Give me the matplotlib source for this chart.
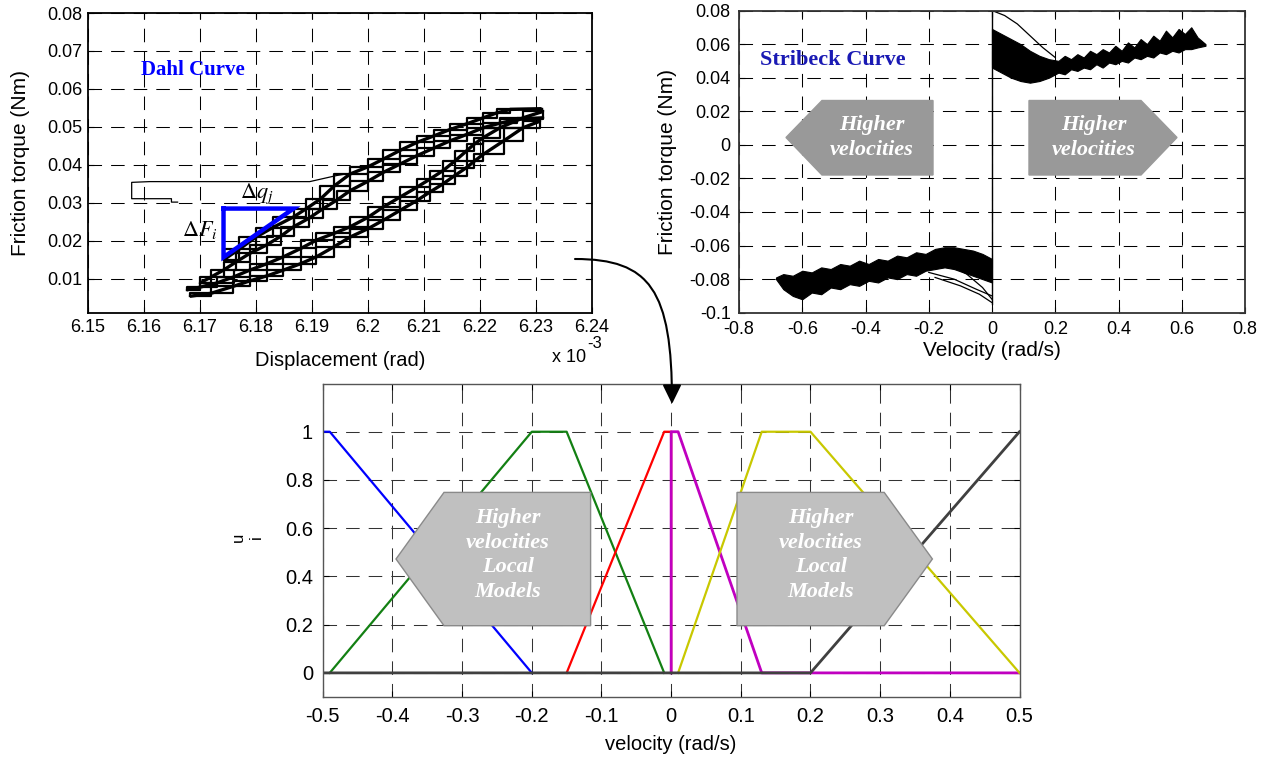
import matplotlib
matplotlib.use("Agg")
import matplotlib.pyplot as plt
from matplotlib.patches import Polygon, FancyArrowPatch
from matplotlib.path import Path

plt.rcParams['font.family'] = ['Liberation Sans', 'DejaVu Sans']
plt.rcParams['mathtext.fontset'] = 'stix'
plt.rcParams['axes.unicode_minus'] = False

W, H = 1266, 757

# ---------------- Dahl curve data (displacement in 1e-3 rad, torque Nm)
dahl_xticks = [6.15, 6.16, 6.17, 6.18, 6.19, 6.20, 6.21, 6.22, 6.23, 6.24]
dahl_xlabels = ['6.15', '6.16', '6.17', '6.18', '6.19', '6.2', '6.21', '6.22', '6.23', '6.24']
dahl_yticks = [0.01, 0.02, 0.03, 0.04, 0.05, 0.06, 0.07, 0.08]

start_x = [6.1660, 6.1649, 6.1649, 6.1578, 6.1578, 6.1610, 6.1896, 6.1944, 6.1968]
start_y = [0.0302, 0.0302, 0.0311, 0.0311, 0.0354, 0.0356, 0.0356, 0.0372, 0.0378]

band1_x = [6.1742, 6.1770, 6.1800, 6.1830, 6.1867, 6.1890, 6.1915, 6.1940, 6.1968, 6.2000,
           6.2027, 6.2057, 6.2087, 6.2117, 6.2146, 6.2176, 6.2206, 6.2230, 6.2254, 6.2310]
band1_y = [0.0150, 0.0178, 0.0210, 0.0235, 0.0263, 0.0285, 0.0310, 0.0345, 0.0376, 0.0395,
           0.0415, 0.0438, 0.0459, 0.0476, 0.0493, 0.0508, 0.0524, 0.0537, 0.0546, 0.0548]

band2_x = [6.1700, 6.1720, 6.1742, 6.1765, 6.1789, 6.1820, 6.1845, 6.1867, 6.1895, 6.1920,
           6.1945, 6.1968, 6.2000, 6.2027, 6.2057, 6.2087, 6.2117, 6.2146, 6.2176, 6.2206,
           6.2236, 6.2266, 6.2313]
band2_y = [0.0089, 0.0105, 0.0123, 0.0145, 0.0167, 0.0190, 0.0213, 0.0237, 0.0260, 0.0285,
           0.0308, 0.0332, 0.0357, 0.0380, 0.0402, 0.0424, 0.0444, 0.0463, 0.0480, 0.0498,
           0.0510, 0.0520, 0.0524]

band3_x = [6.1676, 6.1700, 6.1730, 6.1760, 6.1789, 6.1820, 6.1849, 6.1880, 6.1908, 6.1940,
           6.1968, 6.2000, 6.2027, 6.2057, 6.2087, 6.2110, 6.2134, 6.2155, 6.2176, 6.2190,
           6.2206, 6.2236, 6.2277, 6.2313]
band3_y = [0.0071, 0.0078, 0.0089, 0.0105, 0.0123, 0.0140, 0.0158, 0.0180, 0.0202, 0.0220,
           0.0237, 0.0262, 0.0289, 0.0315, 0.0341, 0.0362, 0.0385, 0.0410, 0.0437, 0.0455,
           0.0472, 0.0498, 0.0524, 0.0541]

band4_x = [6.1682, 6.1720, 6.1759, 6.1790, 6.1820, 6.1849, 6.1880, 6.1908, 6.1940, 6.1968,
           6.2000, 6.2027, 6.2057, 6.2087, 6.2110, 6.2134, 6.2155, 6.2176, 6.2190, 6.2206,
           6.2242, 6.2277, 6.2307]
band4_y = [0.0054, 0.0062, 0.0080, 0.0095, 0.0108, 0.0123, 0.0140, 0.0158, 0.0185, 0.0210,
           0.0232, 0.0254, 0.0280, 0.0306, 0.0328, 0.0350, 0.0372, 0.0393, 0.0410, 0.0428,
           0.0463, 0.0498, 0.0515]

tri_x = [6.1742, 6.1867, 6.1742, 6.1742]
tri_y = [0.0285, 0.0285, 0.0157, 0.0285]

# ---------------- Stribeck curve data (velocity rad/s, torque Nm)
str_xticks = [-0.8, -0.6, -0.4, -0.2, 0, 0.2, 0.4, 0.6, 0.8]
str_xlabels = ['-0.8', '-0.6', '-0.4', '-0.2', '0', '0.2', '0.4', '0.6', '0.8']
str_yticks = [-0.1, -0.08, -0.06, -0.04, -0.02, 0, 0.02, 0.04, 0.06, 0.08]
str_ylabels = ['-0.1', '-0.08', '-0.06', '-0.04', '-0.02', '0', '0.02', '0.04', '0.06', '0.08']

pos_v = [0.0, 0.03, 0.06, 0.09, 0.12, 0.15, 0.18, 0.21, 0.23, 0.25, 0.27, 0.29, 0.31, 0.33,
         0.35, 0.37, 0.39, 0.41, 0.43, 0.45, 0.47, 0.49, 0.51, 0.53, 0.55, 0.57, 0.59, 0.61,
         0.63, 0.65, 0.675]
pos_up = [0.069, 0.066, 0.063, 0.060, 0.056, 0.053, 0.051, 0.050, 0.053, 0.051, 0.054, 0.052,
          0.056, 0.054, 0.057, 0.055, 0.059, 0.056, 0.061, 0.058, 0.063, 0.060, 0.065, 0.062,
          0.068, 0.064, 0.069, 0.066, 0.070, 0.064, 0.060]
pos_lo = [0.046, 0.043, 0.040, 0.038, 0.037, 0.038, 0.040, 0.043, 0.042, 0.045, 0.044, 0.046,
          0.045, 0.048, 0.046, 0.049, 0.048, 0.050, 0.049, 0.052, 0.051, 0.053, 0.052, 0.055,
          0.054, 0.056, 0.055, 0.057, 0.057, 0.058, 0.059]
pos_thin_v = [0.0, 0.04, 0.08, 0.12, 0.16, 0.20]
pos_thin_t = [0.080, 0.077, 0.072, 0.065, 0.058, 0.052]

neg_v = [-0.683, -0.66, -0.63, -0.60, -0.57, -0.54, -0.51, -0.48, -0.45, -0.42, -0.39, -0.36,
         -0.33, -0.30, -0.27, -0.24, -0.21, -0.18, -0.15, -0.12, -0.09, -0.06, -0.03, 0.0]
neg_up = [-0.079, -0.077, -0.078, -0.075, -0.076, -0.073, -0.074, -0.071, -0.072, -0.069,
          -0.071, -0.068, -0.069, -0.066, -0.067, -0.064, -0.065, -0.062, -0.061, -0.061,
          -0.062, -0.063, -0.065, -0.068]
neg_lo = [-0.080, -0.086, -0.090, -0.092, -0.088, -0.089, -0.085, -0.086, -0.083, -0.084,
          -0.081, -0.082, -0.079, -0.080, -0.077, -0.078, -0.075, -0.074, -0.073, -0.074,
          -0.076, -0.078, -0.080, -0.082]
fan_v = [[-0.20, -0.12, -0.05, 0.0], [-0.18, -0.10, -0.04, 0.0], [-0.15, -0.08, -0.03, 0.0]]
fan_t = [[-0.076, -0.080, -0.086, -0.090], [-0.079, -0.084, -0.089, -0.094],
         [-0.070, -0.077, -0.085, -0.092]]

# ---------------- membership functions
mf_xticks = [-0.5, -0.4, -0.3, -0.2, -0.1, 0, 0.1, 0.2, 0.3, 0.4, 0.5]
mf_xlabels = ['-0.5', '-0.4', '-0.3', '-0.2', '-0.1', '0', '0.1', '0.2', '0.3', '0.4', '0.5']
mf_yticks = [0, 0.2, 0.4, 0.6, 0.8, 1]
mf_ylabels = ['0', '0.2', '0.4', '0.6', '0.8', '1']

mf_blue_x, mf_blue_y = [-0.5, -0.49, -0.2], [1, 1, 0]
mf_green_x, mf_green_y = [-0.49, -0.2, -0.15, -0.01], [0, 1, 1, 0]
mf_red_x, mf_red_y = [-0.15, -0.01, 0.0, 0.0], [0, 1, 1, 0]
mf_mag_x, mf_mag_y = [0.0, 0.0, 0.01, 0.13, 0.5], [0, 1, 1, 0, 0]
mf_yel_x, mf_yel_y = [0.01, 0.13, 0.2, 0.5], [0, 1, 1, 0]
mf_blk_x, mf_blk_y = [-0.5, 0.2, 0.5], [0, 0, 1]


def px(x, y):
    # figure pixel (from top-left) to figure fraction
    return (x / W, 1 - y / H)


def grid_style(ax, color='k'):
    ax.grid(True, color=color, linestyle=(0, (13, 8.7)), linewidth=0.75)
    ax.tick_params(direction='in', length=4, top=True, right=True)


fig = plt.figure(figsize=(W / 100, H / 100), dpi=100)

# ---- top-left: Dahl
ax1 = fig.add_axes([88 / W, 1 - 313 / H, 504 / W, 300 / H])
ax1.plot(start_x, start_y, color='k', lw=0.9)
for bx, by in [(band1_x, band1_y), (band2_x, band2_y), (band3_x, band3_y), (band4_x, band4_y)]:
    ax1.plot(bx, by, color='k', lw=2.4, solid_capstyle='butt')
    ax1.plot(bx, by, color='k', lw=1.6, drawstyle='steps-post')
    ax1.plot(bx, by, color='k', lw=1.6, drawstyle='steps-pre')
ax1.plot(tri_x, tri_y, color='#0000ff', lw=3.2, solid_joinstyle='miter')
ax1.set_xlim(6.15, 6.24)
ax1.set_ylim(0.001, 0.08)
ax1.set_xticks(dahl_xticks)
ax1.set_xticklabels(dahl_xlabels)
ax1.set_yticks(dahl_yticks)
ax1.tick_params(labelsize=13, pad=4)
grid_style(ax1)
for s in ax1.spines.values():
    s.set_linewidth(1.3)
ax1.set_ylabel('Friction torque (Nm)', fontsize=15)
ax1.yaxis.set_label_coords(-0.115, 0.5)
ax1.set_xlabel('Displacement (rad)', fontsize=14.5, va='center')
ax1.xaxis.set_label_coords(0.5, -0.159)
ax1.text(6.1595, 0.065, 'Dahl Curve', color='#0000ff', fontsize=15, fontweight='bold',
         family='Liberation Serif', va='center', ha='left')
ax1.text(6.1801, 0.0325, r'$\Delta q_j$', fontsize=16, ha='center', va='center')
ax1.text(6.1700, 0.0229, r'$\Delta F_i$', fontsize=16, ha='center', va='center')
fig.text(*px(586, 358), 'x 10', fontsize=13, ha='right', va='center')
fig.text(*px(587, 343), '-3', fontsize=12, ha='left', va='center')

# ---- top-right: Stribeck
ax2 = fig.add_axes([739 / W, 1 - 312.7 / H, 506 / W, 302.2 / H])
ax2.fill_between(pos_v, pos_lo, pos_up, color='k', lw=0.8)
ax2.plot(pos_thin_v, pos_thin_t, color='k', lw=0.9)
ax2.fill_between(neg_v, neg_lo, neg_up, color='k', lw=0.8)
for fv, ft in zip(fan_v, fan_t):
    ax2.plot(fv, ft, color='k', lw=0.9)
ax2.plot([0, 0], [-0.095, 0.08], color='k', lw=1.0)
ax2.set_xlim(-0.8, 0.8)
ax2.set_ylim(-0.1, 0.08)
ax2.set_xticks(str_xticks)
ax2.set_xticklabels(str_xlabels)
ax2.set_yticks(str_yticks)
ax2.set_yticklabels(str_ylabels)
ax2.tick_params(labelsize=13, pad=6)
grid_style(ax2)
for s in ax2.spines.values():
    s.set_linewidth(1.3)
    s.set_color('#333333')
ax2.set_ylabel('Friction torque (Nm)', fontsize=15)
ax2.yaxis.set_label_coords(-0.1225, 0.5)
ax2.set_xlabel('Velocity (rad/s)', fontsize=15, va='center')
ax2.xaxis.set_label_coords(0.5, -0.1235)
ax2.text(-0.7336, 0.0505, 'Stribeck Curve', color='#1a1ab4', fontsize=16, fontweight='bold',
         family='Liberation Serif', va='center', ha='left')

# ---- bottom: membership functions
ax3 = fig.add_axes([322.8 / W, 1 - 697 / H, 696.7 / W, 313.5 / H])
ax3.plot(mf_blue_x, mf_blue_y, color='#0000ff', lw=1.6)
ax3.plot(mf_green_x, mf_green_y, color='#138013', lw=1.6)
ax3.plot(mf_red_x, mf_red_y, color='#ff0000', lw=1.6)
ax3.plot(mf_mag_x, mf_mag_y, color='#c000c0', lw=2.0)
ax3.plot(mf_yel_x, mf_yel_y, color='#c8c800', lw=1.6)
ax3.plot(mf_blk_x, mf_blk_y, color='#404040', lw=2.0)
ax3.set_xlim(-0.5, 0.5)
ax3.set_ylim(-0.1, 1.2)
ax3.set_xticks(mf_xticks)
ax3.set_xticklabels(mf_xlabels)
ax3.set_yticks(mf_yticks)
ax3.set_yticklabels(mf_ylabels)
ax3.tick_params(labelsize=14.5, pad=7)
grid_style(ax3, color='#333333')
for s in ax3.spines.values():
    s.set_linewidth(1.0)
    s.set_color('#555555')
ax3.set_xlabel('velocity (rad/s)', fontsize=14.5, va='center')
ax3.xaxis.set_label_coords(0.5, -0.153)
fig.text(*px(238, 537), 'u', fontsize=12, rotation=90, ha='center', va='center')
fig.text(*px(256, 537), 'i', fontsize=12, rotation=90, ha='center', va='center')

# ---- grey direction arrows
serif = ['Liberation Serif', 'DejaVu Serif']
arrows = [
    ([(786, 137.5), (822, 100.5), (933, 100.5), (933, 175), (822, 175)], (872, 137.5),
     'Higher\nvelocities', '#999999', '#999999'),
    ([(1029, 100.5), (1141, 100.5), (1177, 137.5), (1141, 175), (1029, 175)], (1094, 137.5),
     'Higher\nvelocities', '#999999', '#999999'),
    ([(396, 559), (444, 492.4), (590.6, 492.4), (590.6, 625.7), (444, 625.7)], (507.6, 555),
     'Higher\nvelocities\nLocal\nModels', '#c0c0c0', '#8a8a8a'),
    ([(737, 492.4), (884.2, 492.4), (932.4, 559), (884.2, 625.7), (737, 625.7)], (821, 555),
     'Higher\nvelocities\nLocal\nModels', '#c0c0c0', '#8a8a8a'),
]
for pts, tc, label, fc, ec in arrows:
    poly = Polygon([px(x, y) for x, y in pts], closed=True, transform=fig.transFigure,
                   facecolor=fc, edgecolor=ec, lw=1.0)
    fig.patches.append(poly)
    fig.text(*px(*tc), label, color='white', fontsize=16, fontstyle='italic',
             fontweight='bold', family=serif, ha='center', va='center', linespacing=1.3)

# ---- curved arrow from Dahl plot to membership plot
verts = [px(575, 259), px(650, 259), px(672, 290), px(672, 404)]
path = Path(verts, [Path.MOVETO, Path.CURVE4, Path.CURVE4, Path.CURVE4])
arr = FancyArrowPatch(path=path, arrowstyle='-|>,head_length=0.45,head_width=0.22',
                      mutation_scale=26, color='k', lw=1.5, transform=fig.transFigure)
fig.patches.append(arr)

fig.savefig('out.png', dpi=100)
